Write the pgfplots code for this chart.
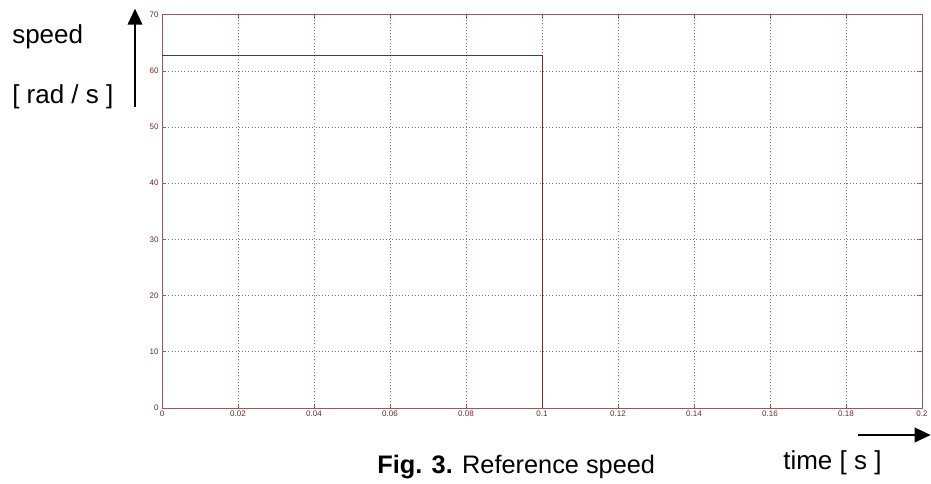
\documentclass[border=0pt]{standalone}
\usepackage{pgfplots}
\pgfplotsset{compat=1.18}
\usetikzlibrary{arrows.meta}
\usepackage{fontspec}
\setmainfont{Liberation Sans}
\definecolor{axc}{RGB}{140,95,95}
\definecolor{tkc}{RGB}{110,40,40}
\definecolor{gridc}{RGB}{150,105,105}
\definecolor{linec}{RGB}{105,50,50}
\begin{document}
\begin{tikzpicture}
\useasboundingbox (0,0) rectangle (698.25pt,363pt);
\begin{axis}[
  at={(121.5pt,57pt)}, anchor=south west,
  scale only axis, width=570pt, height=295pt,
  xmin=0, xmax=0.2, ymin=0, ymax=70,
  xtick={0,0.02,0.04,0.06,0.08,0.1,0.12,0.14,0.16,0.18,0.2},
  xticklabels={0,0.02,0.04,0.06,0.08,0.1,0.12,0.14,0.16,0.18,0.2},
  ytick={0,10,20,30,40,50,60,70},
  tick align=inside, major tick length=3pt,
  axis line style={axc, line width=0.6pt},
  every tick/.style={axc, line width=0.5pt},
  grid=major, major grid style={gridc, dotted, line width=0.5pt},
  tick label style={font=\fontsize{6}{7}\selectfont, text=tkc},
  /pgf/number format/assume math mode=true,
  xticklabel style={yshift=1pt},
  yticklabel style={xshift=1pt},
]
\addplot[linec, line width=0.6pt] coordinates {(0,62.83) (0.1,62.83) (0.1,0) (0.2,0)};
\end{axis}
\node[anchor=west, font=\fontsize{19.5}{22}\selectfont, inner sep=0pt] at (9pt,335.25pt) {speed};
\node[anchor=west, font=\fontsize{19.5}{22}\selectfont, inner sep=0pt] at (9pt,290.25pt) {[ rad / s ]};
\draw[line width=1.2pt, -{Triangle[width=11pt,length=12pt]}] (101.25pt,282.75pt) -- (101.25pt,356.5pt);
\draw[line width=1.2pt, -{Triangle[width=11pt,length=12pt]}] (643.5pt,36.75pt) -- (698pt,36.75pt);
\node[anchor=west, font=\fontsize{19.5}{22}\selectfont, inner sep=0pt] at (587.25pt,15.75pt) {time [ s ]};
\node[anchor=west, font=\fontsize{19}{22}\selectfont, inner sep=0pt] at (282.75pt,12.75pt) {\textbf{Fig. 3.} Reference speed};
\end{tikzpicture}
\end{document}
